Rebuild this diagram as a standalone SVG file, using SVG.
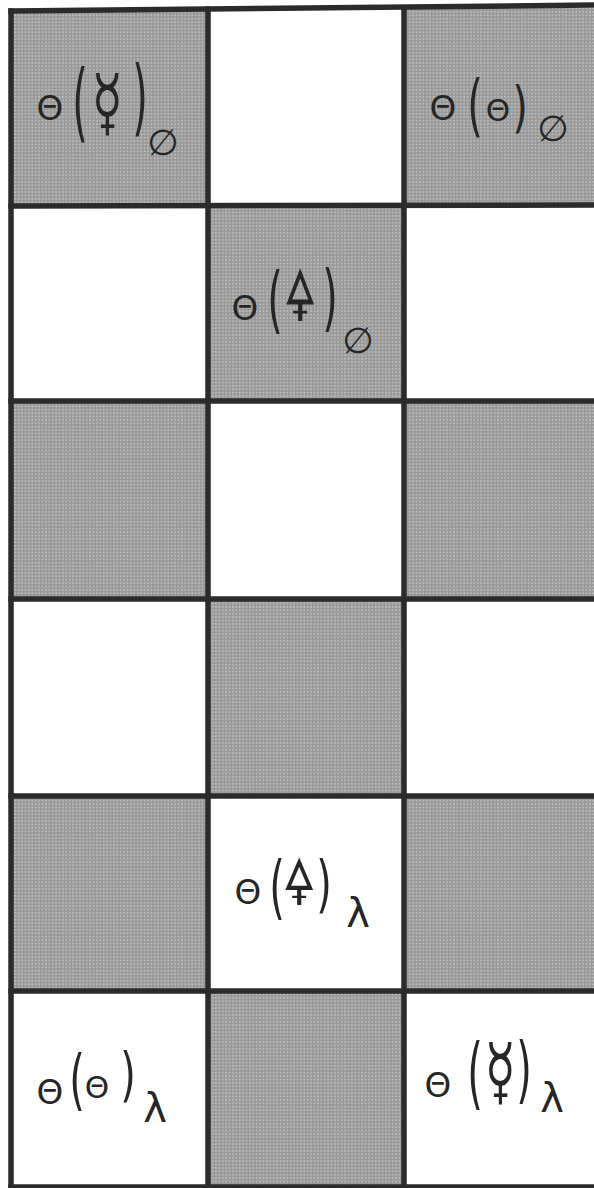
<svg xmlns="http://www.w3.org/2000/svg" width="594" height="1188" viewBox="0 0 594 1188">
<defs>
<pattern id="ht" width="3.4" height="3.4" patternUnits="userSpaceOnUse">
<rect width="3.4" height="3.4" fill="#9a9a9a"/>
<circle cx="1.7" cy="1.7" r="0.85" fill="#c6c6c6"/>
</pattern>
</defs>
<style>
.g{fill:url(#ht)}
.w{fill:#ffffff}
.ln{stroke:#2b2b2b;stroke-width:5.5;fill:none;stroke-linecap:square}
.t{font-family:"DejaVu Sans","Noto Sans",sans-serif;fill:#262626;text-anchor:middle}
.th{font-size:34px}
.th2{font-size:31px}
.p{font-size:40px}
.sym{font-size:50px}
.sul{font-size:46px}
.sub{font-size:36px}
.lam{font-size:40px}
</style>
<rect x="0" y="0" width="594" height="1188" fill="#ffffff"/>

<g id="cell-r1c1"><rect class="g" x="11" y="10" width="197" height="196"/>
<text class="t th" x="50" y="120">Θ</text>
<text class="t p" transform="translate(80,131) scale(1,2.13)">(</text>
<text class="t sym" transform="translate(107,128) scale(1,1.5)">☿</text>
<text class="t p" transform="translate(140,126) scale(1,2.08)">)</text>
<text class="t sub" x="163" y="155">∅</text>
</g>
<g id="cell-r1c2"><rect class="w" x="208" y="10" width="196" height="196"/></g>
<g id="cell-r1c3"><rect class="g" x="404" y="8" width="194" height="198"/>
<text class="t th" x="443" y="120">Θ</text>
<text class="t p" transform="translate(475,129) scale(1,1.69)">(</text>
<text class="t th2" x="498" y="121">Θ</text>
<text class="t p" transform="translate(520,126) scale(1,1.4)">)</text>
<text class="t sub" x="553" y="141">∅</text>
</g>

<g id="cell-r2c1"><rect class="w" x="11" y="206" width="197" height="195"/></g>
<g id="cell-r2c2"><rect class="g" x="208" y="206" width="196" height="195"/>
<text class="t th" x="245" y="320">Θ</text>
<text class="t p" transform="translate(275,325) scale(1,1.83)">(</text>
<text class="t sul" transform="translate(300,321) scale(1,1.55)">🜍</text>
<text class="t p" transform="translate(330,323) scale(1,1.83)">)</text>
<text class="t sub" x="358" y="353">∅</text>
</g>
<g id="cell-r2c3"><rect class="w" x="404" y="206" width="194" height="195"/></g>

<g id="cell-r3c1"><rect class="g" x="11" y="401" width="197" height="198"/></g>
<g id="cell-r3c2"><rect class="w" x="208" y="401" width="196" height="198"/></g>
<g id="cell-r3c3"><rect class="g" x="404" y="401" width="194" height="198"/></g>

<g id="cell-r4c1"><rect class="w" x="11" y="599" width="197" height="197"/></g>
<g id="cell-r4c2"><rect class="g" x="208" y="599" width="196" height="197"/></g>
<g id="cell-r4c3"><rect class="w" x="404" y="599" width="194" height="197"/></g>

<g id="cell-r5c1"><rect class="g" x="11" y="796" width="197" height="195"/></g>
<g id="cell-r5c2"><rect class="w" x="208" y="796" width="196" height="195"/>
<text class="t th" x="248" y="904">Θ</text>
<text class="t p" transform="translate(277,911) scale(1,1.74)">(</text>
<text class="t sul" transform="translate(299,905) scale(1,1.4)">🜍</text>
<text class="t p" transform="translate(324,905) scale(1,1.57)">)</text>
<text class="t lam" x="358" y="927">λ</text>
</g>
<g id="cell-r5c3"><rect class="g" x="404" y="796" width="194" height="195"/></g>

<g id="cell-r6c1"><rect class="w" x="11" y="991" width="197" height="196"/>
<text class="t th" x="50" y="1104">Θ</text>
<text class="t p" transform="translate(77,1102) scale(1,1.63)">(</text>
<text class="t th2" x="97" y="1098">Θ</text>
<text class="t p" transform="translate(128,1095) scale(1,1.49)">)</text>
<text class="t lam" x="155" y="1122">λ</text>
</g>
<g id="cell-r6c2"><rect class="g" x="208" y="991" width="196" height="196"/></g>
<g id="cell-r6c3"><rect class="w" x="404" y="991" width="194" height="196"/>
<text class="t th" x="438" y="1097">Θ</text>
<text class="t p" transform="translate(475,1100) scale(1,1.97)">(</text>
<text class="t sym" transform="translate(500,1097) scale(1,1.5)">☿</text>
<text class="t p" transform="translate(524,1095) scale(1,1.83)">)</text>
<text class="t lam" x="552" y="1112">λ</text>
</g>

<g id="grid-lines">
<line class="ln" x1="11" y1="11" x2="596" y2="5"/>
<line class="ln" x1="11" y1="206" x2="596" y2="205"/>
<line class="ln" x1="11" y1="401" x2="596" y2="401"/>
<line class="ln" x1="11" y1="599" x2="596" y2="599"/>
<line class="ln" x1="11" y1="796" x2="596" y2="796"/>
<line class="ln" x1="11" y1="991" x2="596" y2="991"/>
<line class="ln" x1="11" y1="1187" x2="596" y2="1187"/>
<line class="ln" x1="11" y1="11" x2="11" y2="1188"/>
<line class="ln" x1="208" y1="9" x2="208" y2="1188"/>
<line class="ln" x1="404" y1="8" x2="404" y2="1188"/>
</g>
</svg>
